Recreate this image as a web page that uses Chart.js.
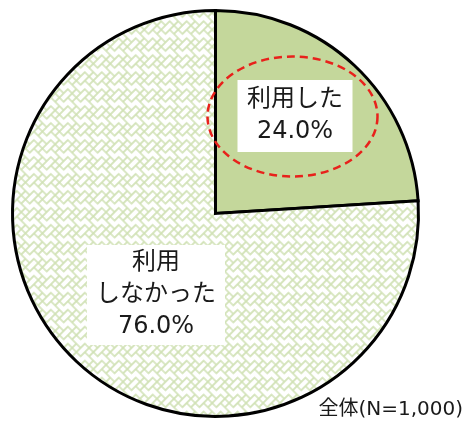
<!DOCTYPE html>
<html>
<head>
<meta charset="utf-8">
<script src="https://cdn.jsdelivr.net/npm/chart.js@4.4.0/dist/chart.umd.min.js"></script>
<style>
  html, body { margin: 0; padding: 0; background: #fff; }
  #wrap { width: 470px; height: 424px; }
</style>
</head>
<body>
<div id="wrap"><canvas id="pieChart" width="470" height="424"></canvas></div>
<script>
// données
const categories = ["利用した", "利用しなかった"];
const labelLines = [["利用した", "24.0%"], ["利用", "しなかった", "76.0%"]];
const values = [24.0, 76.0];
const footnote = "全体(N=1,000)";

const FONT = '"DejaVu Sans", "Noto Sans CJK JP", sans-serif';

// motif sayagata (tourné de 45°) pour la part "利用しなかった"
function makePattern() {
  const u = 6, n = 4, size = u * n;
  const t = document.createElement("canvas");
  t.width = size; t.height = size;
  const c = t.getContext("2d");
  c.fillStyle = "#ffffff";
  c.fillRect(0, 0, size, size);
  c.strokeStyle = "#d0e1b4";
  c.lineWidth = 1.7;
  c.lineCap = "square";
  c.beginPath();
  const off = u / 2;
  for (let ox = -size; ox <= size; ox += size) {
    for (let oy = -size; oy <= size; oy += size) {
      for (let r = 0; r < n; r++) {
        // lignes horizontales : 3 unités tracées, 1 vide, décalage +1 par ligne
        const y = oy + off + r * u;
        const x0 = ox + off + r * u;
        c.moveTo(x0, y); c.lineTo(x0 + 3 * u, y);
        // lignes verticales : décalage -1 par colonne
        const x = ox + off + r * u;
        const y0 = oy + off + ((n - r) % n) * u;
        c.moveTo(x, y0); c.lineTo(x, y0 + 3 * u);
      }
    }
  }
  c.stroke();
  const p = c.createPattern(t, "repeat");
  p.setTransform(new DOMMatrix().rotate(45));
  return p;
}

const labelPlugin = {
  id: "labelPlugin",
  afterDraw(chart) {
    const ctx = chart.ctx;
    const arc = chart.getDatasetMeta(0).data[0];
    const cx = arc.x, cy = arc.y;
    const boxes = [
      { dx: 79.5, dy: -97.5, w: 115, h: 72 },
      { dx: -59.5, dy: 81.5, w: 138, h: 100 }
    ];
    ctx.save();
    // ellipse pointillée rouge
    ctx.beginPath();
    ctx.ellipse(cx + 77, cy - 97, 85, 60, 0, 0, Math.PI * 2);
    ctx.setLineDash([8, 5]);
    ctx.lineWidth = 2.5;
    ctx.strokeStyle = "#e8211b";
    ctx.stroke();
    ctx.setLineDash([]);

    ctx.font = "24px " + FONT;
    ctx.textAlign = "center";
    ctx.textBaseline = "middle";
    labelLines.forEach((lines, i) => {
      const b = boxes[i];
      const x = cx + b.dx, y = cy + b.dy;
      ctx.fillStyle = "#ffffff";
      ctx.fillRect(x - b.w / 2, y - b.h / 2, b.w, b.h);
      ctx.fillStyle = "#1a1a1a";
      const lh = 32;
      lines.forEach((s, j) => {
        ctx.fillText(s, x, y + (j - (lines.length - 1) / 2) * lh);
      });
    });

    ctx.font = "20px " + FONT;
    ctx.textAlign = "right";
    ctx.fillText(footnote, 463, 410);
    ctx.restore();
  }
};

const ctx = document.getElementById("pieChart").getContext("2d");
const pieChart = new Chart(ctx, {
  type: "pie",
  data: {
    labels: categories,
    datasets: [{
      data: values,
      backgroundColor: ["#c4d79b", makePattern()],
      borderColor: "#000000",
      borderWidth: 3,
      borderJoinStyle: "miter"
    }]
  },
  options: {
    responsive: false,
    animation: false,
    layout: { padding: { left: 11, top: 9, right: 50, bottom: 6 } },
    plugins: {
      legend: { display: false },
      tooltip: { enabled: false }
    }
  },
  plugins: [labelPlugin]
});
</script>
</body>
</html>
